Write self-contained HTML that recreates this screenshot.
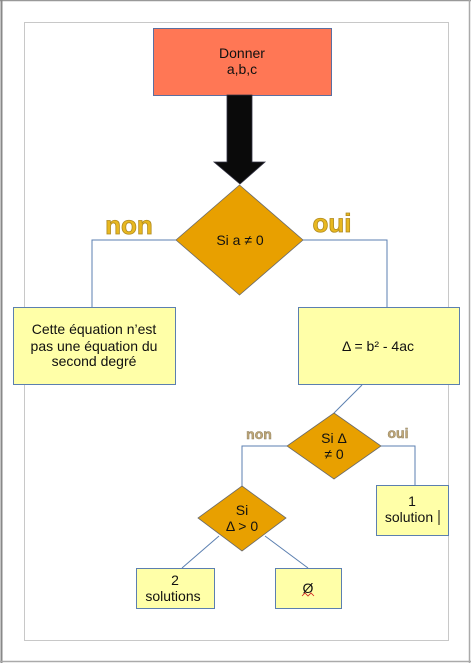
<!DOCTYPE html>
<html><head><meta charset="utf-8"><style>
html,body{margin:0;padding:0;background:#fff;}
svg{display:block;font-family:"Liberation Sans",sans-serif;}
</style></head><body>
<svg width="471" height="663" viewBox="0 0 471 663" xmlns="http://www.w3.org/2000/svg">
<rect x="0" y="0" width="471" height="663" fill="#fff"/>
<line x1="0" y1="0.5" x2="471" y2="0.5" stroke="#999" stroke-width="1.5"/>
<line x1="1.5" y1="0" x2="1.5" y2="663" stroke="#888" stroke-width="2"/>
<line x1="0" y1="661.5" x2="471" y2="661.5" stroke="#aaa" stroke-width="1.5"/>
<line x1="469.5" y1="0" x2="469.5" y2="663" stroke="#aaa" stroke-width="1.5"/>
<rect x="24.5" y="22.5" width="424" height="618" fill="none" stroke="#c8c8c8" stroke-width="1"/>

<g stroke="#5b7fb0" stroke-width="1" fill="none">
<polyline points="176,240 92,240 92,307"/>
<polyline points="303,240 387,240 387,307"/>
<line x1="362" y1="385" x2="334" y2="413"/>
<polyline points="287,446 242,446 242,486"/>
<polyline points="381,446 415,446 415,485"/>
<line x1="219" y1="536" x2="182" y2="568"/>
<line x1="265" y1="536" x2="308" y2="568"/>
</g>

<rect x="153.5" y="28.5" width="178" height="67" fill="#ff7755" stroke="#5b6fa0"/>
<text x="242" y="58" font-size="14" text-anchor="middle" fill="#111">Donner</text>
<text x="242" y="74" font-size="14" text-anchor="middle" fill="#111">a,b,c</text>

<polygon points="227,95 252,95 252,162 265,162 240,184 214,162 227,162" fill="#0a0a0a" stroke="#334" stroke-width="0.8"/>

<polygon points="239.5,185 303,240 239.5,295 176,240" fill="#e8a000" stroke="#6a6a6a" stroke-width="0.8"/>
<text x="240" y="245" font-size="14" text-anchor="middle" fill="#111">Si a ≠ 0</text>

<text x="129" y="234" font-size="26" font-weight="bold" text-anchor="middle" fill="#e8b820" stroke="#b08a20" stroke-width="0.8">non</text>
<text x="332" y="232" font-size="26" font-weight="bold" text-anchor="middle" fill="#e8b820" stroke="#b08a20" stroke-width="0.8">oui</text>

<rect x="13.5" y="307.5" width="162" height="77" fill="#ffffa8" stroke="#5b7fb0"/>
<text x="94" y="334" font-size="14" text-anchor="middle" fill="#111">Cette équation n’est</text>
<text x="94" y="351" font-size="14" text-anchor="middle" fill="#111">pas une équation du</text>
<text x="94" y="366" font-size="14" text-anchor="middle" fill="#111">second degré</text>

<rect x="298.5" y="307.5" width="161" height="77" fill="#ffffa8" stroke="#5b7fb0"/>
<text x="378" y="351" font-size="14" text-anchor="middle" fill="#111">Δ = b² - 4ac</text>

<polygon points="334,413 381,446 334,479 287,446" fill="#e8a000" stroke="#6a6a6a" stroke-width="0.8"/>
<text x="334" y="443" font-size="14" text-anchor="middle" fill="#111">Si Δ</text>
<text x="334" y="459" font-size="14" text-anchor="middle" fill="#111">≠ 0</text>
<text x="259" y="439" font-size="14" font-weight="bold" text-anchor="middle" fill="#c0a878" stroke="#908060" stroke-width="0.5">non</text>
<text x="398" y="438" font-size="14" font-weight="bold" text-anchor="middle" fill="#c0a878" stroke="#908060" stroke-width="0.5">oui</text>

<rect x="376.5" y="485.5" width="72" height="50" fill="#ffffa8" stroke="#5b7fb0"/>
<text x="412" y="506" font-size="14" text-anchor="middle" fill="#111">1</text>
<text x="409" y="522" font-size="14" text-anchor="middle" fill="#111">solution</text>
<line x1="439" y1="510" x2="439" y2="525" stroke="#111" stroke-width="1"/>

<polygon points="242,486 286,518 242,551 198,518" fill="#e8a000" stroke="#6a6a6a" stroke-width="0.8"/>
<text x="242" y="515" font-size="14" text-anchor="middle" fill="#111">Si</text>
<text x="242" y="531" font-size="14" text-anchor="middle" fill="#111">Δ &gt; 0</text>

<rect x="136.5" y="568.5" width="78" height="40" fill="#ffffa8" stroke="#5b7fb0"/>
<text x="175" y="585" font-size="14" text-anchor="middle" fill="#111">2</text>
<text x="173" y="601" font-size="14" text-anchor="middle" fill="#111">solutions</text>

<rect x="275.5" y="568.5" width="66" height="40" fill="#ffffa8" stroke="#5b7fb0"/>
<text x="308" y="593" font-size="14" text-anchor="middle" fill="#111">Ø</text>
<path d="M302,596 l3,-3 l3,3 l3,-3 l3,3" stroke="#d02020" stroke-width="0.8" fill="none"/>
</svg>
</body></html>
